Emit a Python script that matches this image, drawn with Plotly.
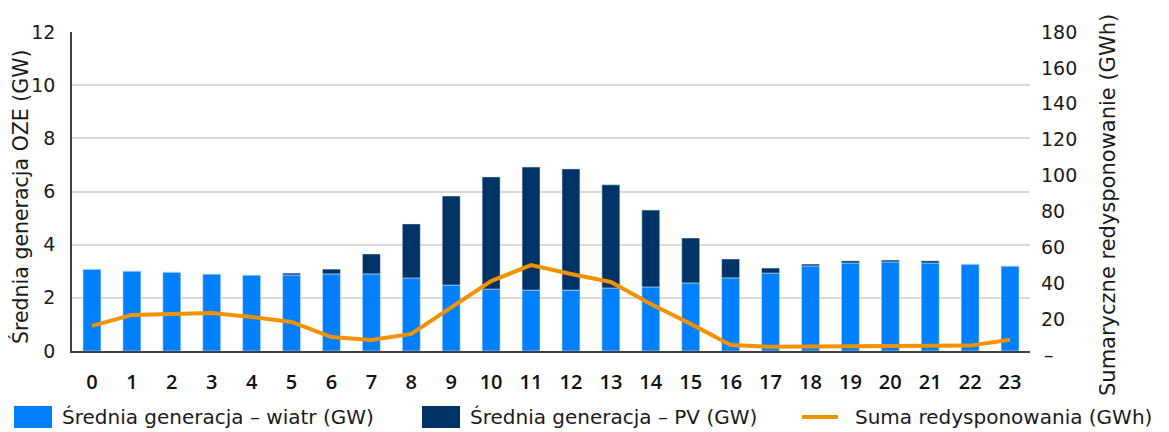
import plotly.graph_objects as go

hours = [str(h) for h in range(24)]
wind = [3.08, 3.01, 2.97, 2.90, 2.86, 2.86, 2.90, 2.90, 2.75, 2.48, 2.33, 2.29,
        2.29, 2.37, 2.41, 2.56, 2.75, 2.93, 3.20, 3.31, 3.35, 3.31, 3.27, 3.20]
pv = [0.0, 0.0, 0.0, 0.0, 0.0, 0.07, 0.18, 0.75, 2.03, 3.35, 4.22, 4.63,
      4.56, 3.88, 2.89, 1.69, 0.71, 0.19, 0.07, 0.08, 0.07, 0.08, 0.0, 0.0]
redisp = [16.2, 22.3, 22.8, 23.4, 21.2, 18.4, 10.0, 8.4, 11.7, 26.5, 41.2, 50.1,
          45.1, 40.7, 28.4, 17.3, 5.6, 4.5, 4.6, 4.8, 5.0, 5.0, 5.2, 8.5]
left_ticks = [0, 2, 4, 6, 8, 10, 12]
right_ticks = [20, 40, 60, 80, 100, 120, 140, 160, 180]

C_WIND = "#0080FF"
C_PV = "#003366"
C_LINE = "#F39200"
FONT = "DejaVu Sans"
TXT = "#1a1a1a"

# the page body has an 8px default margin, so the figure is drawn 8px in from the corner
OFF = 8
PAGE_W, PAGE_H = 1169, 432
W, H = PAGE_W - OFF, PAGE_H - OFF
# plot area edges in page pixels
L, R, T, B = 72, 1030, 32, 351


def px(x):
    return (x - L) / (R - L)


def py(y):
    return (B - y) / (B - T)


fig = go.Figure()
fig.add_trace(go.Bar(x=hours, y=wind, marker_color=C_WIND, name="Średnia generacja – wiatr (GW)",
                     showlegend=False))
fig.add_trace(go.Bar(x=hours, y=pv, marker_color=C_PV, name="Średnia generacja – PV (GW)",
                     showlegend=False))
fig.add_trace(go.Scatter(x=hours, y=redisp, yaxis="y2", mode="lines",
                         line=dict(color=C_LINE, width=4), name="Suma redysponowania (GWh)",
                         showlegend=False))

fig.update_layout(
    width=W, height=H,
    margin=dict(l=L - OFF, r=PAGE_W - R, t=T - OFF, b=PAGE_H - B, autoexpand=False),
    paper_bgcolor="white", plot_bgcolor="white",
    barmode="relative", bargap=0.55,
    font=dict(family=FONT, size=19, color=TXT),
    xaxis=dict(type="category", showgrid=False, showline=True, linecolor="#404040", linewidth=2,
               ticks="", automargin=False,
               tickfont=dict(family="Open Sans", size=20, color="#111", weight=600),
               ticklabelstandoff=12),
    yaxis=dict(range=[0, 12], tickvals=left_ticks, showgrid=True, gridcolor="#D9D9D9", gridwidth=2,
               showline=True, linecolor="#404040", linewidth=1.5, zeroline=False,
               ticks="", ticklabelstandoff=11, automargin=False),
    yaxis2=dict(range=[2.2, 180], tickvals=right_ticks, overlaying="y", side="right",
                showgrid=False, showline=False, zeroline=False, ticks="", ticklabelstandoff=10,
                automargin=False),
)

# axis titles
fig.add_annotation(xref="paper", yref="paper", x=px(21), y=py(197), text="Średnia generacja OZE (GW)",
                   textangle=-90, showarrow=False, xanchor="center", yanchor="middle",
                   font=dict(size=20.5, color=TXT))
fig.add_annotation(xref="paper", yref="paper", x=px(1108), y=py(205),
                   text="Sumaryczne redysponowanie (GWh)",
                   textangle=-90, showarrow=False, xanchor="center", yanchor="middle",
                   font=dict(size=21, color=TXT))

# zero label of the right axis (accounting-style dash)
fig.add_annotation(xref="paper", yref="paper", x=px(1042), y=py(355), text="–", showarrow=False,
                   xanchor="left", yanchor="middle", font=dict(size=19, color=TXT))

# custom legend
legend_items = [
    ("bar", C_WIND, 14, "Średnia generacja – wiatr (GW)"),
    ("bar", C_PV, 422, "Średnia generacja – PV (GW)"),
    ("line", C_LINE, 802, "Suma redysponowania (GWh)"),
]
ly = 417
for kind, col, x0, label in legend_items:
    if kind == "bar":
        fig.add_shape(type="rect", xref="paper", yref="paper", x0=px(x0), x1=px(x0 + 38),
                      y0=py(ly - 11), y1=py(ly + 11), fillcolor=col, line=dict(width=0))
        tx = x0 + 46
    else:
        fig.add_shape(type="line", xref="paper", yref="paper", x0=px(x0), x1=px(x0 + 36),
                      y0=py(ly), y1=py(ly), line=dict(color=col, width=4))
        tx = x0 + 51
    fig.add_annotation(xref="paper", yref="paper", x=px(tx), y=py(ly), text=label,
                       showarrow=False, xanchor="left", yanchor="middle",
                       font=dict(size=20, color=TXT))

fig.write_html("out.html")
